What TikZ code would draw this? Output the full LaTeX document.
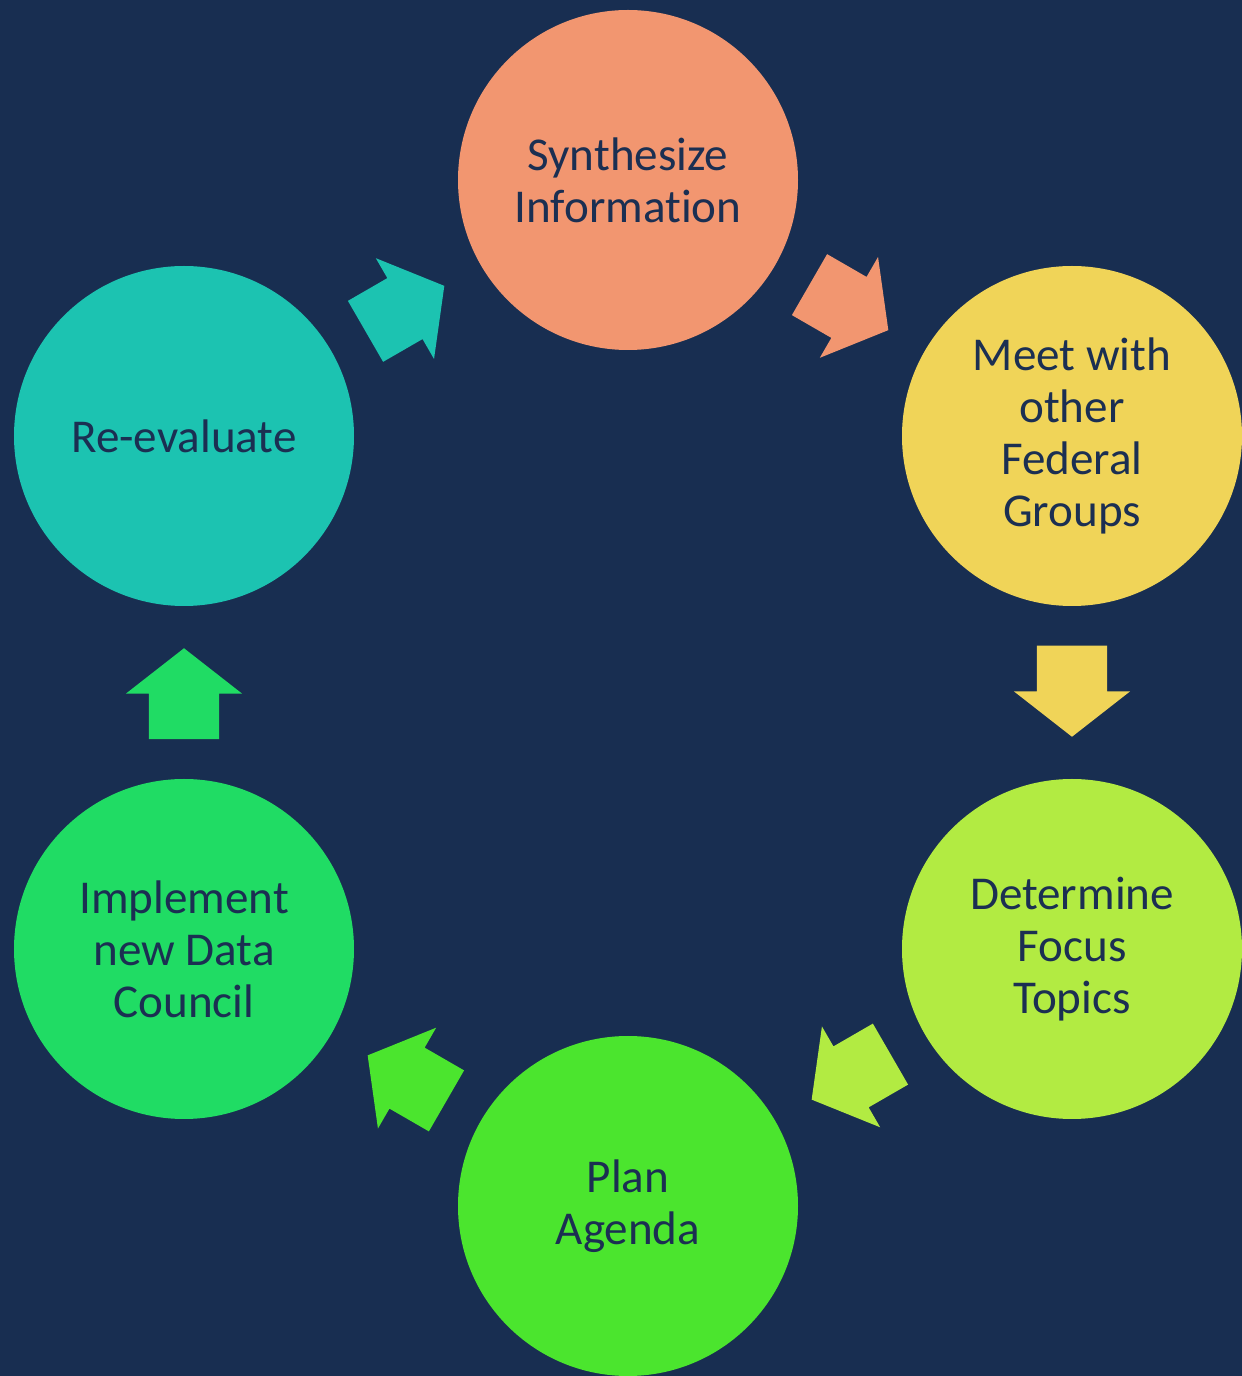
\documentclass[tikz,border=0pt]{standalone}
\usepackage{fontspec}
\setmainfont[Ligatures={TeX,NoCommon}]{Carlito}
\usepackage{xcolor}
\usetikzlibrary{shapes.arrows, calc}

\definecolor{bgnavy}{HTML}{182E51}
\definecolor{txtnavy}{HTML}{1B2F52}
\definecolor{salmon}{HTML}{F29670}
\definecolor{sunyellow}{HTML}{F0D458}
\definecolor{limegreen}{HTML}{B2EB42}
\definecolor{brightgreen}{HTML}{4BE52E}
\definecolor{mintgreen}{HTML}{20DC64}
\definecolor{tealcol}{HTML}{1CC3B1}

\tikzset{
  stage/.style={circle, minimum size=3.4cm, inner sep=0pt, align=center,
    text=txtnavy, font=\fontsize{13.4}{14.8}\selectfont},
  blockarrow/.style={single arrow, inner xsep=0pt, inner ysep=0.345cm,
    single arrow head extend=0.23cm, single arrow tip angle=104,
    single arrow head indent=0pt, minimum height=0.91cm}
}

\begin{document}
\begin{tikzpicture}
\fill[bgnavy] (0,0) rectangle (12.42,13.76);
\useasboundingbox (0,0) rectangle (12.42,13.76);

% the six stages
\node[stage, fill=salmon] (synth) at (6.28,11.96) {Synthesize\\Information};
\node[stage, fill=sunyellow] (meet) at (10.72,9.40) {Meet with\\other\\Federal\\Groups};
\node[stage, fill=limegreen] (focus) at (10.72,4.27) {Determine\\Focus\\Topics};
\node[stage, fill=brightgreen] (plan) at (6.28,1.70) {Plan\\Agenda};
\node[stage, fill=mintgreen] (impl) at (1.84,4.27) {Implement\\new Data\\Council};
\node[stage, fill=tealcol] (reeval) at (1.84,9.40) {Re-evaluate};

% arrows between stages (centre pulled back a little towards the source)
\node[blockarrow, fill=salmon, rotate=-30] (a1) at ($(synth)!0.5!(meet)!0.15cm!(synth)$) {};
\node[blockarrow, fill=sunyellow, rotate=-90] (a2) at ($(meet)!0.5!(focus)!0.15cm!(meet)$) {};
\node[blockarrow, fill=limegreen, rotate=-150] (a3) at ($(focus)!0.5!(plan)!0.15cm!(focus)$) {};
\node[blockarrow, fill=brightgreen, rotate=150] (a4) at ($(plan)!0.5!(impl)!0.15cm!(plan)$) {};
\node[blockarrow, fill=mintgreen, rotate=90] (a5) at ($(impl)!0.5!(reeval)!0.15cm!(impl)$) {};
\node[blockarrow, fill=tealcol, rotate=30] (a6) at ($(reeval)!0.5!(synth)!0.15cm!(reeval)$) {};
\end{tikzpicture}
\end{document}
